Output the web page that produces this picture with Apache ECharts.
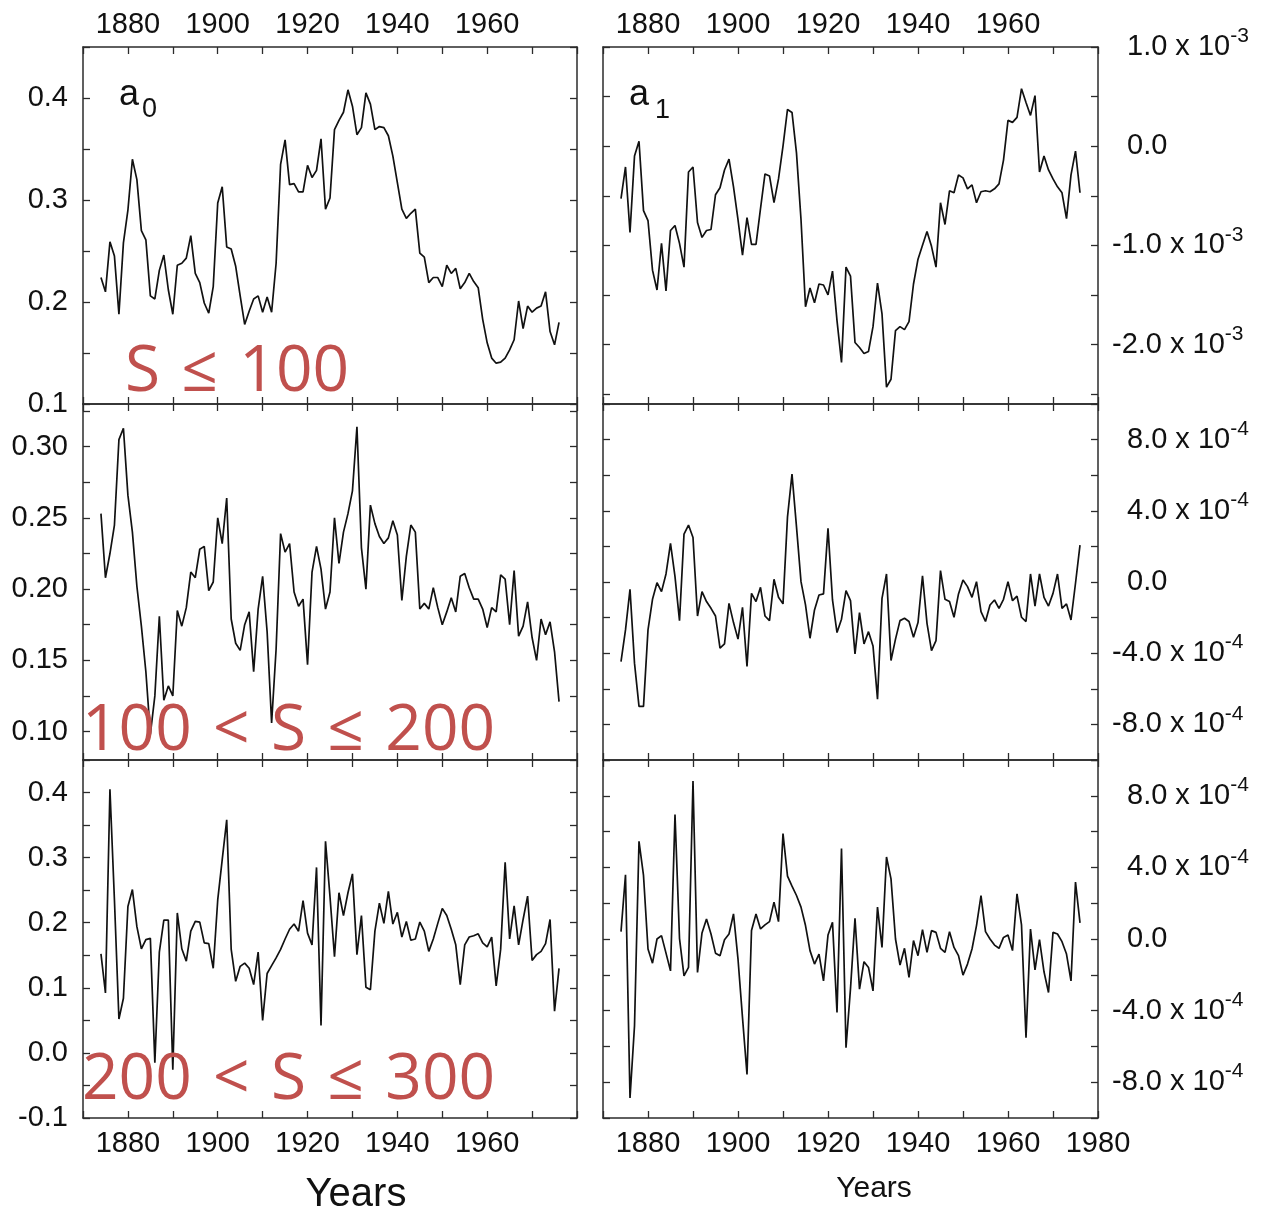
<!DOCTYPE html>
<html>
<head>
<meta charset="UTF-8">
<title>a0 / a1 coefficients</title>
<script type="text/javascript" src="https://cdn.jsdelivr.net/npm/echarts@6/dist/echarts.min.js"></script>
<style>
  html, body { margin: 0; padding: 0; background: #fff; }
  #main { width: 1265px; height: 1208px; }
</style>
</head>
<body>
<div id="main"></div>
<script type="text/javascript">
// yearly values, 1874 .. 1976
var firstYear = 1874;

// a0, S <= 100
var a0Low = [0.224,0.210,0.259,0.245,0.188,0.258,0.290,0.340,0.320,0.270,
  0.261,0.206,0.203,0.231,0.246,0.212,0.188,0.236,0.238,0.243,
  0.265,0.228,0.219,0.199,0.189,0.215,0.297,0.313,0.254,0.252,
  0.235,0.206,0.178,0.191,0.203,0.206,0.190,0.205,0.190,0.238,
  0.335,0.359,0.315,0.316,0.308,0.308,0.334,0.322,0.329,0.360,
  0.291,0.302,0.369,0.378,0.386,0.408,0.392,0.364,0.371,0.405,
  0.394,0.369,0.372,0.371,0.363,0.343,0.317,0.291,0.282,0.287,
  0.291,0.248,0.244,0.219,0.224,0.224,0.215,0.236,0.228,0.233,
  0.213,0.219,0.228,0.220,0.214,0.183,0.160,0.145,0.140,0.141,
  0.145,0.153,0.163,0.201,0.174,0.196,0.190,0.194,0.196,0.210,
  0.171,0.158,0.180];

// a1, S <= 100 (units of 10^-3)
var a1Low = [-0.53,-0.21,-0.87,-0.10,0.05,-0.65,-0.75,-1.25,-1.45,-0.98,
  -1.46,-0.85,-0.80,-0.98,-1.22,-0.26,-0.21,-0.77,-0.92,-0.85,
  -0.84,-0.49,-0.42,-0.24,-0.13,-0.41,-0.74,-1.10,-0.72,-0.99,
  -0.99,-0.63,-0.28,-0.30,-0.57,-0.33,0.00,0.37,0.34,-0.07,
  -0.74,-1.62,-1.43,-1.58,-1.39,-1.40,-1.50,-1.26,-1.76,-2.18,
  -1.22,-1.31,-1.98,-2.03,-2.09,-2.07,-1.82,-1.38,-1.69,-2.43,
  -2.35,-1.86,-1.82,-1.85,-1.77,-1.39,-1.14,-1.00,-0.86,-1.01,
  -1.22,-0.57,-0.79,-0.45,-0.47,-0.29,-0.32,-0.43,-0.39,-0.57,
  -0.46,-0.45,-0.46,-0.43,-0.38,-0.14,0.26,0.24,0.29,0.58,
  0.44,0.31,0.51,-0.26,-0.10,-0.24,-0.33,-0.41,-0.47,-0.73,
  -0.29,-0.05,-0.47];

// a0, 100 < S <= 200
var a0Mid = [0.253,0.208,0.225,0.245,0.305,0.313,0.266,0.240,0.202,0.174,
  0.142,0.098,0.125,0.181,0.122,0.132,0.125,0.185,0.174,0.187,
  0.212,0.208,0.228,0.230,0.199,0.205,0.250,0.232,0.264,0.179,
  0.162,0.157,0.175,0.184,0.142,0.186,0.209,0.170,0.106,0.158,
  0.239,0.226,0.232,0.198,0.188,0.193,0.147,0.212,0.230,0.214,
  0.186,0.198,0.250,0.218,0.240,0.253,0.269,0.314,0.229,0.200,
  0.259,0.246,0.237,0.232,0.236,0.248,0.238,0.192,0.223,0.245,
  0.240,0.186,0.190,0.186,0.201,0.187,0.175,0.184,0.194,0.184,
  0.209,0.211,0.201,0.193,0.193,0.186,0.173,0.187,0.184,0.210,
  0.207,0.175,0.213,0.167,0.174,0.191,0.166,0.150,0.179,0.168,
  0.177,0.156,0.121];

// a1, 100 < S <= 200 (units of 10^-4)
var a1Mid = [-4.47,-2.69,-0.41,-4.56,-6.99,-6.99,-2.69,-0.97,-0.04,-0.54,
  0.45,2.17,0.30,-2.17,2.69,3.20,2.50,-1.91,-0.54,-1.10,
  -1.48,-1.91,-3.72,-3.48,-1.20,-2.28,-3.21,-1.42,-4.75,-0.64,
  -1.10,-0.30,-1.91,-2.17,0.15,-0.86,-1.23,3.66,6.06,3.10,
  0.02,-1.29,-3.16,-1.57,-0.73,-0.67,3.01,-1.01,-2.84,-2.09,
  -0.49,-1.05,-4.04,-1.72,-3.48,-2.79,-3.59,-6.58,-0.92,0.45,
  -4.41,-3.21,-2.17,-2.04,-2.22,-3.10,-2.28,0.34,-2.32,-3.85,
  -3.29,0.64,-0.97,-1.10,-1.98,-0.67,0.11,-0.26,-0.86,0.02,
  -1.66,-2.22,-1.29,-1.01,-1.48,-0.97,0.02,-1.05,-0.79,-1.98,
  -2.22,0.45,-1.35,0.45,-0.86,-1.35,-0.64,0.45,-1.48,-1.23,
  -2.13,-0.07,2.07];

// a0, 200 < S <= 300
var a0High = [0.152,0.092,0.405,0.235,0.052,0.084,0.225,0.251,0.194,0.160,
  0.174,0.176,-0.015,0.155,0.204,0.204,-0.026,0.215,0.160,0.141,
  0.187,0.202,0.201,0.169,0.168,0.130,0.235,0.297,0.358,0.159,
  0.110,0.133,0.138,0.130,0.105,0.155,0.050,0.122,0.134,0.146,
  0.159,0.175,0.190,0.198,0.187,0.234,0.184,0.166,0.285,0.042,
  0.325,0.240,0.148,0.246,0.211,0.246,0.275,0.151,0.211,0.101,
  0.097,0.187,0.230,0.199,0.248,0.198,0.216,0.178,0.202,0.173,
  0.175,0.201,0.187,0.156,0.175,0.199,0.222,0.211,0.190,0.166,
  0.105,0.166,0.178,0.180,0.183,0.169,0.163,0.178,0.103,0.159,
  0.293,0.175,0.226,0.166,0.205,0.241,0.142,0.151,0.156,0.168,
  0.205,0.064,0.130];

// a1, 200 < S <= 300 (units of 10^-4)
var a1High = [0.41,3.59,-8.88,-4.86,5.46,3.55,-0.56,-1.35,0.00,0.19,
  -0.79,-1.78,6.95,0.04,-2.06,-1.59,8.82,-1.87,0.34,1.12,
  0.28,-0.79,-0.93,-0.04,0.28,1.40,-1.12,-4.39,-7.57,0.47,
  1.40,0.56,0.79,0.97,2.06,0.97,5.89,3.51,2.95,2.43,
  1.78,0.75,-0.65,-1.40,-0.84,-2.34,0.22,0.93,-4.11,5.05,
  -6.07,-2.77,1.16,-2.80,-1.27,-1.59,-2.90,1.78,-0.47,4.58,
  3.36,0.00,-1.46,-0.52,-2.15,-0.09,-0.93,0.52,-0.75,0.47,
  0.37,-0.52,-0.75,0.41,-0.47,-0.93,-2.02,-1.40,-0.56,0.75,
  2.43,0.41,0.00,-0.34,-0.52,0.09,0.22,-0.65,2.52,0.79,
  -5.51,0.56,-1.72,-0.04,-1.83,-2.99,0.37,0.28,-0.15,-0.84,
  -2.34,3.18,0.90];

// tick labels
var yearLabels = [1880, 1900, 1920, 1940, 1960];
var yearLabelsLast = [1880, 1900, 1920, 1940, 1960, 1980];
var a0LowTicks = [0.1, 0.2, 0.3, 0.4];
var a0MidTicks = [0.10, 0.15, 0.20, 0.25, 0.30];
var a0MidMinor = [0.1, 0.125, 0.15, 0.175, 0.2, 0.225, 0.25, 0.275, 0.3, 0.325];
var a0HighTicks = [-0.1, 0.0, 0.1, 0.2, 0.3, 0.4];
var a1LowTicks = [-2.0, -1.0, 0.0, 1.0];
var a1LowMinor = [-2.5, -2.0, -1.5, -1.0, -0.5, 0.0, 0.5, 1.0];
var a1MidTicks = [-8, -4, 0, 4, 8];

var years = [];
for (var i = 0; i < a0Low.length; i++) years.push(firstYear + i);

var ink = '#111';
var frame = '#2b2b2b';
var fontFam = '"Liberation Sans", Arial, sans-serif';
var labelSize = 29;

function pairs(arr) {
    return years.map(function (y, k) { return [y, arr[k]]; });
}

function xAxis(g, pos, labels) {
    return {
        type: 'value', gridIndex: g, position: pos,
        min: 1870, max: 1980, interval: 10,
        axisLine: { show: true, onZero: false, lineStyle: { color: frame, width: 1.5 } },
        axisTick: { show: true, inside: true, length: 7, lineStyle: { color: frame, width: 1.3 } },
        axisLabel: {
            show: !!labels, customValues: labels || undefined,
            margin: pos === 'top' ? 8 : 11,
            fontSize: labelSize, fontFamily: fontFam, color: ink,
            formatter: function (v) { return String(v); }
        },
        splitLine: { show: false }
    };
}

function yAxis(g, pos, min, max, ticks, labels, fmt, rich) {
    var ax = {
        type: 'value', gridIndex: g, position: pos, min: min, max: max,
        axisLine: { show: true, onZero: false, lineStyle: { color: frame, width: 1.5 } },
        axisTick: { show: true, inside: true, length: 7, lineStyle: { color: frame, width: 1.3 } },
        axisLabel: {
            show: !!labels, customValues: labels || undefined,
            margin: pos === 'left' ? 15 : 14,
            fontSize: labelSize, fontFamily: fontFam, color: ink,
            showMinLabel: true, showMaxLabel: true,
            formatter: fmt, rich: rich
        },
        splitLine: { show: false }
    };
    if (Array.isArray(ticks)) ax.axisTick.customValues = ticks;
    else ax.interval = ticks;
    return ax;
}

function fixed(d) { return function (v) { return v.toFixed(d); }; }

function sci(exp) {
    return function (v) {
        var r = Math.round(v * 10) / 10;
        if (r === 0) return '{pad| }{n|0.0}';
        return (r > 0 ? '{pad| }' : '') + '{n|' + r.toFixed(1) + ' x 10}{sup|' + exp + '}';
    };
}

var sciRich = {
    pad: { width: 15, fontSize: labelSize },
    n: { fontSize: labelSize, lineHeight: 32, fontFamily: fontFam, color: ink },
    sup: { fontSize: 21, lineHeight: 21, padding: [0, 0, 21, 0], fontFamily: fontFam, color: ink }
};

var grids = [
    { left: 83, top: 47, width: 494, height: 357 },
    { left: 603, top: 47, width: 495, height: 357 },
    { left: 83, top: 404, width: 494, height: 356 },
    { left: 603, top: 404, width: 495, height: 356 },
    { left: 83, top: 760, width: 494, height: 358 },
    { left: 603, top: 760, width: 495, height: 358 }
];

var xAxes = [
    xAxis(0, 'bottom', null), xAxis(0, 'top', yearLabels),
    xAxis(1, 'bottom', null), xAxis(1, 'top', yearLabels),
    xAxis(2, 'bottom', null), xAxis(2, 'top', null),
    xAxis(3, 'bottom', null), xAxis(3, 'top', null),
    xAxis(4, 'bottom', yearLabels), xAxis(4, 'top', null),
    xAxis(5, 'bottom', yearLabelsLast), xAxis(5, 'top', null)
];

var yAxes = [
    yAxis(0, 'left', 0.1, 0.45, 0.05, a0LowTicks, fixed(1)),
    yAxis(0, 'right', 0.1, 0.45, 0.05, null),
    yAxis(1, 'left', -2.6, 1.0, a1LowMinor, null),
    yAxis(1, 'right', -2.6, 1.0, a1LowMinor, a1LowTicks, sci('-3'), sciRich),
    yAxis(2, 'left', 0.08, 0.33, a0MidMinor, a0MidTicks, fixed(2)),
    yAxis(2, 'right', 0.08, 0.33, a0MidMinor, null),
    yAxis(3, 'left', -10, 10, 2, null),
    yAxis(3, 'right', -10, 10, 2, a1MidTicks, sci('-4'), sciRich),
    yAxis(4, 'left', -0.1, 0.45, 0.05, a0HighTicks, fixed(1)),
    yAxis(4, 'right', -0.1, 0.45, 0.05, null),
    yAxis(5, 'left', -10, 10, 2, null),
    yAxis(5, 'right', -10, 10, 2, a1MidTicks, sci('-4'), sciRich)
];

var seriesData = [a0Low, a1Low, a0Mid, a1Mid, a0High, a1High];
var series = seriesData.map(function (arr, g) {
    return {
        type: 'line', xAxisIndex: 2 * g, yAxisIndex: 2 * g,
        data: pairs(arr), symbol: 'none', showSymbol: false,
        lineStyle: { color: ink, width: 1.7 }, silent: true
    };
});

function txt(x, y, text, size, opts) {
    opts = opts || {};
    return {
        type: 'text', x: x, y: y, z: 100,
        style: {
            text: text, fontSize: size, fontFamily: opts.font || fontFam,
            fill: opts.fill || ink, align: opts.align || 'left', verticalAlign: 'middle'
        }
    };
}

var red = '#c0504d';
var redFont = '"Open Sans", "Noto Sans", sans-serif';
var sp = '\u2004';

var graphics = [
    txt(119, 95, 'a', 36), txt(142, 110, '0', 27),
    txt(629, 95, 'a', 36), txt(655, 111, '1', 27),
    txt(356, 1195, 'Years', 40, { align: 'center' }),
    txt(874, 1189, 'Years', 30, { align: 'center' }),
    txt(125, 373, 'S' + sp + '\u2264' + sp + '100', 64, { fill: red, font: redFont }),
    txt(82, 732, '100' + sp + '<' + sp + 'S' + sp + '\u2264' + sp + '200', 64, { fill: red, font: redFont }),
    txt(82, 1081, '200' + sp + '<' + sp + 'S' + sp + '\u2264' + sp + '300', 64, { fill: red, font: redFont })
];

var myChart = echarts.init(document.getElementById('main'));
myChart.setOption({
    animation: false,
    backgroundColor: '#fff',
    grid: grids,
    xAxis: xAxes,
    yAxis: yAxes,
    series: series,
    graphic: graphics
});
</script>
</body>
</html>
